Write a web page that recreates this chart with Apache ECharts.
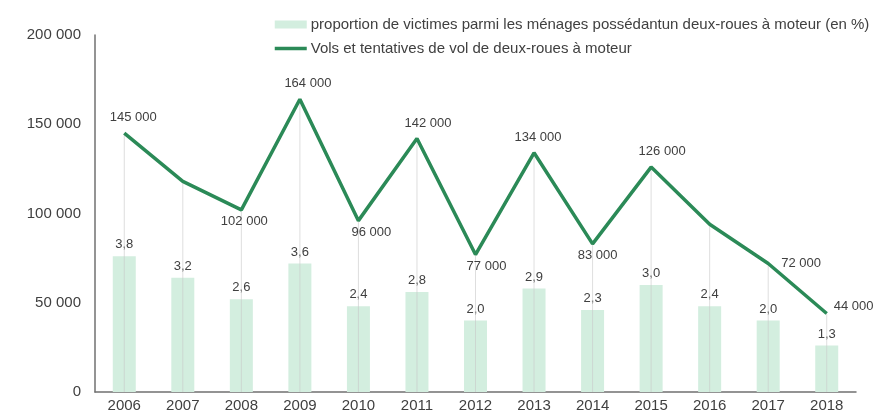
<!DOCTYPE html>
<html>
<head>
<meta charset="utf-8">
<script src="https://cdn.jsdelivr.net/npm/echarts@6/dist/echarts.min.js"></script>
<style>
  html, body { margin: 0; padding: 0; background: #fff; }
  #chart { width: 879px; height: 416px; }
</style>
</head>
<body>
<div id="chart"></div>
<script>
// années
const years = ["2006", "2007", "2008", "2009", "2010", "2011", "2012",
  "2013", "2014", "2015", "2016", "2017", "2018"];
// proportion de victimes (en %)
const proportion = [3.8, 3.2, 2.6, 3.6, 2.4, 2.8, 2.0, 2.9, 2.3, 3.0, 2.4, 2.0, 1.3];
// vols et tentatives
const vols = [145000, 118000, 102000, 164000, 96000, 142000, 77000,
  134000, 83000, 126000, 94000, 72000, 44000];
const yTicks = [0, 50000, 100000, 150000, 200000];

const barName = "proportion de victimes parmi les ménages possédantun deux-roues à moteur (en %)";
const lineName = "Vols et tentatives de vol de deux-roues à moteur";

const fmtK = (v) => String(v).replace(/\B(?=(\d{3})+(?!\d))/g, " ");

// où placer l'étiquette de chaque point (placement manuel comme dans Excel)
const labelSide = ["top", null, "bottom", "top", "bottom", "top", "bottom",
  "top", "bottom", "top", null, "right", "right"];
const labelShiftX = [9, 0, 3, 8, 13, 11, 11, 4, 5, 11, 0, 0, 0];
const labelShiftY = [0, 0, 0, 0, 0, 0, 0, 0, 0, 0, 0, 0, -7];

const lineData = vols.map((v, i) => {
  const side = labelSide[i];
  if (!side) return { value: v, label: { show: false } };
  const lab = { show: true, position: side, distance: side === "top" ? 9 : 5 };
  if (side === "right") lab.distance = i === 12 ? 7 : 13;
  return { value: v, label: lab };
});

const chart = echarts.init(document.getElementById("chart"));
chart.setOption({
  animation: false,
  textStyle: { fontFamily: "Liberation Sans, Arial, sans-serif" },
  legend: {
    orient: "vertical",
    left: 268,
    top: 12,
    itemGap: 9,
    itemWidth: 32,
    itemHeight: 8,
    textStyle: { color: "#404040", fontSize: 15, padding: [0, 0, 0, -1] },
    data: [
      { name: barName, icon: "rect", itemStyle: { borderWidth: 0 } },
      {
        name: lineName,
        itemStyle: { opacity: 0 },
        lineStyle: { width: 3.5, color: "#2B8A57" }
      }
    ]
  },
  grid: { left: 95, right: 23, top: 35, bottom: 24, containLabel: false },
  xAxis: [
    {
      type: "category",
      data: years,
      boundaryGap: true,
      axisLine: { lineStyle: { color: "#707070", width: 1.5 } },
      axisTick: { show: false },
      axisLabel: { color: "#404040", fontSize: 15, margin: 6 }
    },
    {
      type: "category",
      data: years,
      show: false
    }
  ],
  yAxis: [
    {
      type: "value",
      min: yTicks[0],
      max: yTicks[yTicks.length - 1],
      interval: 50000,
      axisLine: { show: true, lineStyle: { color: "#707070", width: 1.5 } },
      axisTick: { show: false },
      splitLine: { show: false },
      axisLabel: { color: "#404040", fontSize: 15, margin: 14, formatter: fmtK }
    },
    {
      type: "value",
      min: 0,
      max: 10,
      show: false,
      splitLine: { show: false }
    }
  ],
  series: [
    {
      name: barName,
      type: "bar",
      yAxisIndex: 1,
      barWidth: 23,
      data: proportion,
      itemStyle: { color: "#D3EEDF" },
      label: {
        show: true,
        position: "top",
        distance: 5,
        color: "#404040",
        fontSize: 13,
        formatter: (p) => p.value.toFixed(1).replace(".", ",")
      },
      z: 2
    },
    {
      // lignes de projection
      name: "drop",
      type: "bar",
      xAxisIndex: 1,
      yAxisIndex: 0,
      barWidth: 1,
      data: vols,
      itemStyle: { color: "rgba(200,200,200,0.6)" },
      silent: true,
      z: 3
    },
    {
      name: lineName,
      type: "line",
      data: lineData,
      symbol: "circle",
      symbolSize: 0.1,
      showSymbol: true,
      lineStyle: { color: "#2B8A57", width: 3.5 },
      itemStyle: { color: "#2B8A57" },
      label: {
        color: "#404040",
        fontSize: 13,
        formatter: (p) => fmtK(p.value)
      },
      labelLayout: (p) => ({
        hideOverlap: false,
        dx: labelShiftX[p.dataIndex],
        dy: labelShiftY[p.dataIndex]
      }),
      z: 5
    }
  ]
});
</script>
</body>
</html>
